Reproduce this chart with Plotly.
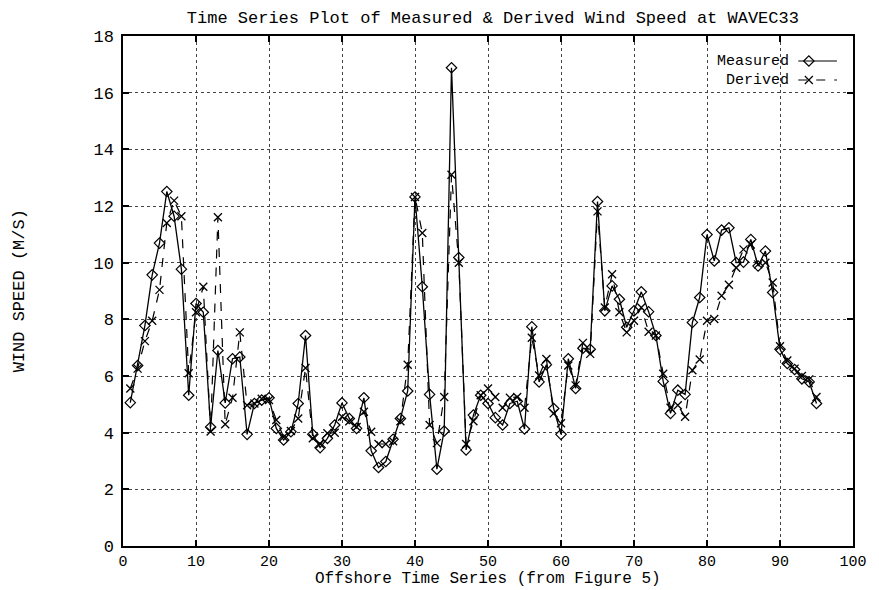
import plotly.graph_objects as go

# ---- data ----
series_index = list(range(1, 96))

measured = [5.06, 6.37, 7.78, 9.57, 10.69, 12.51, 11.64, 9.77, 5.32, 8.56,
            8.25, 4.20, 6.90, 5.05, 6.61, 6.67, 3.94, 5.03, 5.15, 5.23,
            4.15, 3.74, 4.03, 5.03, 7.43, 3.94, 3.47, 3.80, 4.27, 5.05,
            4.50, 4.15, 5.23, 3.36, 2.77, 2.98, 3.77, 4.50, 5.47, 12.32,
            9.15, 5.35, 2.71, 4.06, 16.88, 10.18, 3.39, 4.62, 5.32, 5.03,
            4.53, 4.27, 5.03, 5.11, 4.13, 7.74, 5.79, 6.40, 4.85, 3.94,
            6.61, 5.56, 6.98, 6.94, 12.16, 8.30, 9.18, 8.71, 7.72, 8.30,
            8.97, 8.27, 7.43, 5.81, 4.68, 5.50, 5.35, 7.89, 8.77, 10.99,
            10.06, 11.15, 11.23, 10.00, 10.02, 10.82, 9.88, 10.41, 8.95, 6.94,
            6.44, 6.23, 5.90, 5.79, 5.03]

derived = [5.56, 6.26, 7.23, 7.95, 9.04, 11.40, 12.19, 11.64, 6.10, 8.25,
           9.15, 4.04, 11.60, 4.30, 5.23, 7.54, 4.97, 5.03, 5.20, 5.15,
           4.45, 3.85, 4.06, 4.50, 6.28, 3.80, 3.60, 3.98, 4.00, 4.56,
           4.40, 4.20, 4.74, 4.03, 3.60, 3.60, 3.70, 4.40, 6.40, 12.32,
           11.05, 4.27, 3.63, 5.26, 13.10, 10.00, 3.60, 4.40, 5.32, 5.56,
           5.26, 4.88, 5.23, 5.26, 4.88, 7.35, 6.02, 6.60, 4.68, 4.33,
           6.37, 5.67, 7.17, 6.78, 11.81, 8.42, 9.59, 8.25, 7.54, 7.95,
           8.42, 7.56, 7.43, 6.08, 4.88, 4.97, 4.56, 6.20, 6.58, 7.95,
           8.01, 8.83, 9.22, 9.82, 10.47, 10.64, 9.94, 10.00, 9.30, 7.05,
           6.55, 6.26, 6.00, 5.88, 5.26]

x_ticks = list(range(0, 101, 10))
y_ticks = list(range(0, 19, 2))
legend_names = ["Measured", "Derived"]

FONT = "Liberation Mono, Courier New, monospace"
FS = 17
FS_X = 15
FS_KEY = 15

fig = go.Figure()

fig.add_trace(go.Scatter(
    x=series_index, y=derived, mode="lines+markers", name="Derived",
    line=dict(color="black", width=1.2, dash="dash"),
    marker=dict(symbol="x-thin-open", size=8, line=dict(color="black", width=1.3)),
    showlegend=False))

fig.add_trace(go.Scatter(
    x=series_index, y=measured, mode="lines+markers", name="Measured",
    line=dict(color="black", width=1.3),
    marker=dict(symbol="diamond-open", size=8, color="black",
                line=dict(color="black", width=1.2)),
    showlegend=False))

# gnuplot-style key: right-aligned text, line sample with point on the right
key_rows = [(546 - 61) / 510, (546 - 80) / 510]
key_x0, key_x1 = 0.925, 0.978
key_styles = [
    dict(dash="solid", symbol="diamond-open"),
    dict(dash="dash", symbol="x-thin-open"),
]
for name, ky, st in zip(legend_names, key_rows, key_styles):
    fig.add_annotation(x=0.914, y=ky, xref="paper", yref="paper", text=name,
                       showarrow=False, xanchor="right", yanchor="middle",
                       borderpad=0,
                       font=dict(family=FONT, size=FS_KEY, color="black"))
    fig.add_shape(type="line", xref="paper", yref="paper",
                  x0=key_x0, x1=key_x1, y0=ky, y1=ky,
                  line=dict(color="black", width=1.2, dash=st["dash"]))
    fig.add_trace(go.Scatter(
        x=[(key_x0 + key_x1) / 2 - 0.012], y=[ky], xaxis="x2", yaxis="y2",
        mode="markers", showlegend=False, hoverinfo="skip",
        marker=dict(symbol=st["symbol"], size=8, color="black",
                    line=dict(color="black", width=1.2))))

axis_common = dict(
    showline=True, linecolor="black", linewidth=1.5, mirror="ticks",
    ticks="inside", ticklen=6, tickwidth=1.5, tickcolor="black",
    showgrid=True, gridcolor="#444", gridwidth=1, griddash="dot",
    zeroline=False,
)

fig.update_layout(
    width=879, height=590,
    margin=dict(l=123, r=16, t=36, b=44),
    paper_bgcolor="white", plot_bgcolor="white",
    font=dict(family=FONT, size=FS, color="black"),
    title=dict(text="Time Series Plot of Measured & Derived Wind Speed at WAVEC33",
               x=0.5607, xanchor="center", y=(590 - 17) / 590, yanchor="middle",
               yref="container",
               font=dict(family=FONT, size=FS, color="black")),
    xaxis=dict(range=[0, 100], tickvals=x_ticks, ticklabelstandoff=0,
               tickfont=dict(family=FONT, size=FS_X, color="black"), **axis_common),
    yaxis=dict(range=[0, 18], tickvals=y_ticks, ticklabelstandoff=4,
               tickfont=dict(family=FONT, size=FS, color="black"), **axis_common),
    xaxis2=dict(range=[0, 1], overlaying="x", visible=False, fixedrange=True),
    yaxis2=dict(range=[0, 1], overlaying="y", visible=False, fixedrange=True),
    showlegend=False,
)

fig.add_annotation(x=0.5, y=(546 - 589) / 510, xref="paper", yref="paper",
                   text="Offshore Time Series (from Figure 5)", showarrow=False,
                   xanchor="center", yanchor="bottom", borderpad=0,
                   font=dict(family=FONT, size=FS_X + 1, color="black"))
fig.add_annotation(x=-0.142, y=0.5, xref="paper", yref="paper",
                   text="WIND SPEED (M/S)", showarrow=False, textangle=-90,
                   xanchor="center", yanchor="middle",
                   font=dict(family=FONT, size=FS, color="black"))

fig.write_html("out.html")
